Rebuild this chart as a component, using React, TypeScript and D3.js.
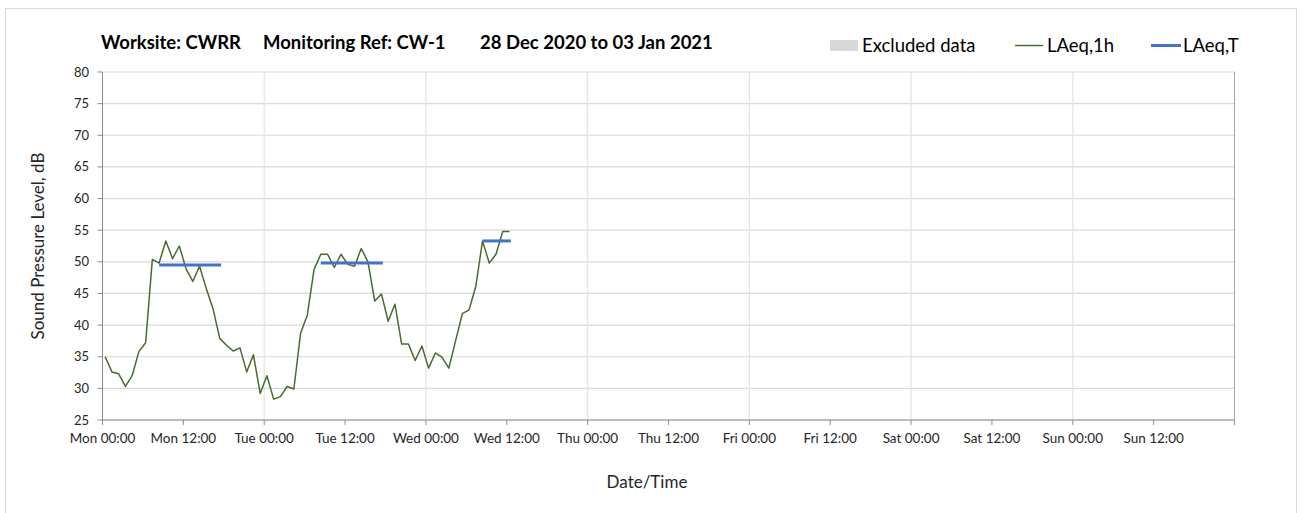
import React from "react";
import * as d3 from "d3";

// Hourly LAeq,1h values from Mon 00:00 (hour index 0) onwards
const laeq1h: number[] = [
  35.0, 32.6, 32.3, 30.3, 32.0, 35.8, 37.2, 50.4, 49.8, 53.3,
  50.5, 52.5, 48.9, 46.9, 49.3, 45.8, 42.6, 37.9, 36.8, 35.9,
  36.4, 32.6, 35.3, 29.2, 32.0, 28.3, 28.7, 30.3, 29.9, 38.7,
  41.6, 48.8, 51.2, 51.2, 49.1, 51.2, 49.6, 49.3, 52.1, 50.0,
  43.8, 44.9, 40.6, 43.3, 37.0, 37.0, 34.4, 36.7, 33.2, 35.6,
  34.9, 33.2, 37.5, 41.8, 42.4, 46.1, 53.3, 49.8, 51.2, 54.8,
  54.8,
];
const hourOffset = 0.4;

// LAeq,T period values: start hour, end hour, level
const laeqTStart: number[] = [8, 32, 56];
const laeqTEnd: number[] = [17.2, 41.2, 60.2];
const laeqTValue: number[] = [49.5, 49.8, 53.3];

const dayNames: string[] = ["Mon", "Tue", "Wed", "Thu", "Fri", "Sat", "Sun"];
const halfDayTimes: string[] = ["00:00", "12:00"];
const yTicks: number[] = [25, 30, 35, 40, 45, 50, 55, 60, 65, 70, 75, 80];

const titleParts: string[] = ["Worksite: CWRR", "Monitoring Ref: CW-1", "28 Dec 2020 to 03 Jan 2021"];
const legendLabels: string[] = ["Excluded data", "LAeq,1h", "LAeq,T"];

const W = 1304;
const H = 513;
const FONT = "Lato, 'Open Sans', sans-serif";

export default function App() {
  const x = d3.scaleLinear().domain([0, 168]).range([102.5, 1234.5]);
  const y = d3.scaleLinear().domain([25, 80]).range([420, 72]);

  const xTickHours = d3.range(0, 169, 12);
  const dayLines = d3.range(24, 169, 24);

  const line = d3
    .line<number>()
    .x((_, i) => x(i + hourOffset))
    .y((d) => y(d));

  const titleX = [101, 263, 480];
  const green = "#4A6B2E";
  const blue = "#4472C4";

  return (
    <svg
      width={W}
      height={H}
      style={{ position: "absolute", left: 0, top: 0, display: "block" }}
      fontFamily={FONT}
    >
      <rect x={0} y={0} width={W} height={H} fill="#fff" />
      <rect x={5.5} y={8.5} width={1291} height={520} fill="#fff" stroke="#d9d9d9" strokeWidth={1} />

      {/* horizontal gridlines */}
      {yTicks.map((t) => (
        <line key={"hg" + t} x1={x(0)} x2={x(168)} y1={y(t)} y2={y(t)} stroke="#d9d9d9" strokeWidth={1.2} />
      ))}
      {/* vertical day gridlines */}
      {dayLines.map((h) => (
        <line key={"vg" + h} x1={x(h)} x2={x(h)} y1={y(80)} y2={y(25)} stroke="#e3e3e3" strokeWidth={1.2} />
      ))}

      {/* axes */}
      <line x1={x(0)} x2={x(0)} y1={y(80)} y2={y(25)} stroke="#8c8c8c" strokeWidth={1} />
      <line x1={x(0)} x2={x(168)} y1={y(25)} y2={y(25)} stroke="#8c8c8c" strokeWidth={1} />
      <line x1={x(168)} x2={x(168)} y1={y(80)} y2={y(25)} stroke="#a6a6a6" strokeWidth={1} />
      {yTicks.map((t) => (
        <g key={"yt" + t}>
          <line x1={x(0) - 5} x2={x(0)} y1={y(t)} y2={y(t)} stroke="#8c8c8c" />
          <text x={89} y={y(t)} dy="0.35em" textAnchor="end" fontSize={13} fill="#262626">
            {t}
          </text>
        </g>
      ))}
      {xTickHours.map((h) => (
        <g key={"xt" + h}>
          <line x1={x(h)} x2={x(h)} y1={y(25)} y2={y(25) + 5} stroke="#8c8c8c" />
          {h < 168 && (
            <text x={x(h)} y={443} textAnchor="middle" fontSize={13.5} fill="#262626">
              {dayNames[Math.floor(h / 24)] + " " + halfDayTimes[(h / 12) % 2]}
            </text>
          )}
        </g>
      ))}

      {/* data */}
      <path d={line(laeq1h) || ""} fill="none" stroke={green} strokeWidth={1.5} strokeLinejoin="round" />
      {laeqTValue.map((v, i) => (
        <line
          key={"lt" + i}
          x1={x(laeqTStart[i] + hourOffset)}
          x2={x(laeqTEnd[i] + hourOffset)}
          y1={y(v)}
          y2={y(v)}
          stroke={blue}
          strokeWidth={3}
        />
      ))}

      {/* title */}
      {titleParts.map((t, i) => (
        <text key={"tt" + i} x={titleX[i]} y={49} fontSize={18.5} fontWeight="bold" fill="#000">
          {t}
        </text>
      ))}

      {/* legend */}
      <rect x={830} y={40} width={28} height={11} fill="#d9d9d9" />
      <text x={862} y={52} fontSize={18.5} fill="#000">{legendLabels[0]}</text>
      <line x1={1015} x2={1043} y1={45.5} y2={45.5} stroke={green} strokeWidth={1.5} />
      <text x={1047} y={52} fontSize={18.5} fill="#000">{legendLabels[1]}</text>
      <line x1={1151} x2={1181} y1={45.5} y2={45.5} stroke={blue} strokeWidth={3} />
      <text x={1183} y={52} fontSize={18.5} fill="#000">{legendLabels[2]}</text>

      {/* axis titles */}
      <text
        transform={`translate(44,${(y(25) + y(80)) / 2}) rotate(-90)`}
        textAnchor="middle"
        fontSize={17}
        fill="#262626"
      >
        Sound Pressure Level, dB
      </text>
      <text x={647} y={488} textAnchor="middle" fontSize={17} fill="#262626">
        Date/Time
      </text>
    </svg>
  );
}
